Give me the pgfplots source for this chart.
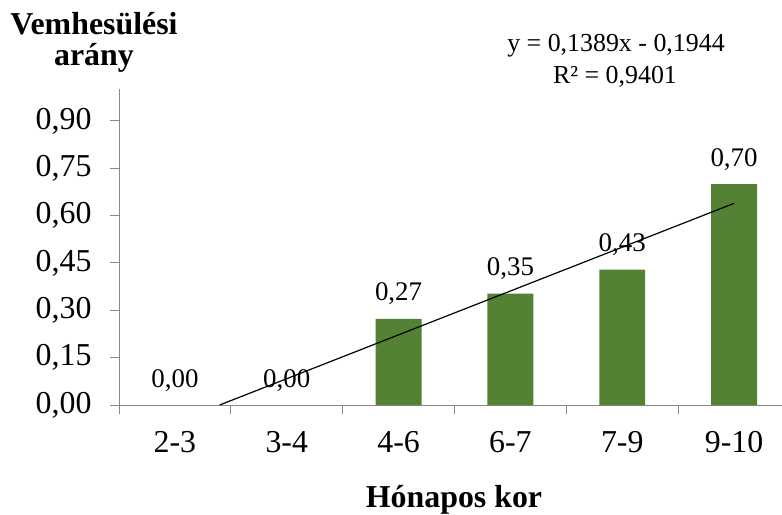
\documentclass[border=0pt]{standalone}
\usepackage{pgfplots}
\pgfplotsset{compat=1.18}
\usepackage{fontspec}
\setmainfont{Liberation Serif}
\definecolor{bargreen}{HTML}{548235}
\definecolor{axgray}{HTML}{898989}
\begin{document}
\begin{tikzpicture}
\path[use as bounding box] (0,0) rectangle (782bp,515bp);
\begin{axis}[
  at={(119bp,110bp)}, anchor=south west,
  scale only axis, width=671bp, height=315.6bp,
  xmin=-0.5, xmax=5.5, ymin=0, ymax=1.0,
  axis lines*=left,
  axis line style={axgray, line width=1bp},
  tick style={axgray, line width=1bp},
  tick align=outside,
  major tick length=9bp,
  ytick={0,0.15,0.3,0.45,0.6,0.75,0.9},
  yticklabel style={font=\fontsize{32}{38}\selectfont, xshift=-15bp,
    /pgf/number format/fixed, /pgf/number format/fixed zerofill,
    /pgf/number format/precision=2, /pgf/number format/use comma,
    /pgf/number format/assume math mode=true},
  x tick label as interval,
  xtick={-0.5,0.5,1.5,2.5,3.5,4.5,5.5},
  xticklabels={2-3,3-4,4-6,6-7,7-9,9-10},
  xticklabel style={font=\fontsize{32}{38}\selectfont, yshift=-14bp},
  clip=false,
]
\addplot[ybar, bar width=0.41, fill=bargreen, draw=none,
  nodes near coords={\pgfmathprintnumber[fixed,fixed zerofill,precision=2,use comma,assume math mode=true]{\pgfplotspointmeta}},
  nodes near coords style={font=\fontsize{27}{32}\selectfont, text=black, anchor=base, yshift=18bp}]
  coordinates {(0,0) (1,0) (2,0.273) (3,0.353) (4,0.429) (5,0.70)};
\addplot[black, line width=1.2bp, mark=none] coordinates {(0.4,0) (5,0.639)};
\end{axis}
\node[font=\fontsize{32}{38}\selectfont\bfseries, anchor=base] at (94bp,480bp) {Vemhesülési};
\node[font=\fontsize{32}{38}\selectfont\bfseries, anchor=base] at (94bp,449bp) {arány};
\node[font=\fontsize{26}{31}\selectfont, anchor=base] at (616bp,463bp) {y = 0,1389x - 0,1944};
\node[font=\fontsize{26}{31}\selectfont, anchor=base] at (615bp,431bp) {R² = 0,9401};
\node[font=\fontsize{32}{38}\selectfont\bfseries, anchor=base] at (454bp,8bp) {Hónapos kor};
\end{tikzpicture}
\end{document}
